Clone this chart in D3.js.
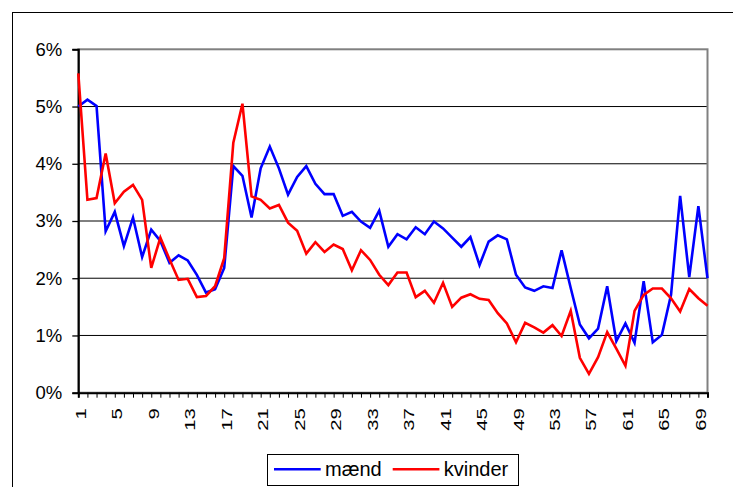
<!doctype html>
<html lang="da">
<head>
  <meta charset="utf-8">
  <title></title>
  <script src="https://d3js.org/d3.v7.min.js"></script>
  <style>
    body { margin: 0; background: #fff; }
    text { font-family: "Liberation Sans", Arial, sans-serif; fill: #000; }
  </style>
</head>
<body>
<script>
  // alder 1..70, andel i procent
  var ages = d3.range(1, 71);
  var maend = [
    5.00, 5.12, 5.01, 2.82, 3.16, 2.56, 3.06, 2.37, 2.85, 2.65,
    2.27, 2.40, 2.31, 2.06, 1.75, 1.81, 2.18, 3.96, 3.79, 3.06,
    3.92, 4.30, 3.92, 3.46, 3.77, 3.96, 3.65, 3.47, 3.47, 3.09,
    3.16, 2.99, 2.88, 3.18, 2.55, 2.77, 2.68, 2.89, 2.77, 2.99,
    2.87, 2.71, 2.55, 2.72, 2.23, 2.64, 2.75, 2.68, 2.06, 1.84,
    1.78, 1.86, 1.83, 2.49, 1.83, 1.19, 0.95, 1.12, 1.86, 0.90,
    1.21, 0.87, 1.95, 0.88, 1.01, 1.71, 3.44, 2.02, 3.26, 2.00];
  var kvinder = [
    5.58, 3.37, 3.40, 4.18, 3.31, 3.51, 3.63, 3.37, 2.18, 2.71,
    2.33, 1.97, 1.99, 1.67, 1.69, 1.86, 2.35, 4.37, 5.05, 3.43,
    3.37, 3.22, 3.28, 2.97, 2.83, 2.43, 2.63, 2.46, 2.59, 2.51,
    2.14, 2.49, 2.32, 2.06, 1.88, 2.10, 2.10, 1.67, 1.78, 1.57,
    1.92, 1.50, 1.66, 1.72, 1.64, 1.62, 1.39, 1.21, 0.88, 1.22,
    1.14, 1.05, 1.18, 0.99, 1.43, 0.61, 0.33, 0.62, 1.06, 0.77,
    0.47, 1.43, 1.71, 1.82, 1.82, 1.65, 1.42, 1.81, 1.65, 1.52];
  var yTicks = [0, 1, 2, 3, 4, 5, 6];
  var xTicks = d3.range(1, 71, 4);

  var series = [
    {name: "mænd", values: maend, color: "#0000ff"},
    {name: "kvinder", values: kvinder, color: "#ff0000"}
  ];

  var W = 733, H = 487;
  var plot = {left: 78.3, right: 707.5, top: 49.3, bottom: 392.7};

  var svg = d3.select("body").append("svg")
    .attr("width", W).attr("height", H);

  // ydre ramme
  svg.append("rect")
    .attr("x", 12.5).attr("y", 12.5)
    .attr("width", 800).attr("height", 600)
    .attr("fill", "#fff").attr("stroke", "#000").attr("stroke-width", 1);

  var x = d3.scalePoint().domain(ages).range([plot.left, plot.right]);
  var y = d3.scaleLinear().domain([0, 6]).range([plot.bottom, plot.top]);

  // gitterlinjer
  svg.append("g")
    .selectAll("line")
    .data(yTicks.filter(d => d > 0 && d < 6))
    .enter().append("line")
    .attr("x1", plot.left).attr("x2", plot.right)
    .attr("y1", d => y(d)).attr("y2", d => y(d))
    .attr("stroke", "#000").attr("stroke-width", 1);

  // plotramme (grå)
  svg.append("rect")
    .attr("x", plot.left).attr("y", plot.top)
    .attr("width", plot.right - plot.left).attr("height", plot.bottom - plot.top)
    .attr("fill", "none").attr("stroke", "#808080").attr("stroke-width", 2);

  // y-akse
  var yAxis = svg.append("g")
    .attr("transform", "translate(" + plot.left + ",0)")
    .call(d3.axisLeft(y).tickValues(yTicks).tickSize(6).tickPadding(10)
      .tickFormat(d => d + "%"));
  yAxis.select(".domain").attr("stroke", "#000").attr("stroke-width", 2);
  yAxis.selectAll(".tick line").attr("stroke", "#000").attr("stroke-width", 1.3);
  yAxis.selectAll("text").attr("font-size", 18.5)
    .style("font-family", "'Liberation Sans', Arial, sans-serif");

  // x-akse: streg for hver alder, label for hver fjerde
  var xAxis = svg.append("g")
    .attr("transform", "translate(0," + plot.bottom + ")")
    .call(d3.axisBottom(x).tickValues(ages).tickSize(5).tickFormat(""));
  xAxis.select(".domain").attr("stroke", "#000").attr("stroke-width", 2);
  xAxis.selectAll(".tick line").attr("stroke", "#000").attr("stroke-width", 1);

  // labels er strakt i længderetningen som i Excel
  svg.append("g")
    .selectAll("text")
    .data(xTicks)
    .enter().append("text")
    .attr("transform", d => "translate(" + x(d) + "," + (plot.bottom + 15.5) + ") rotate(-90) scale(1.35,1)")
    .attr("text-anchor", "end")
    .attr("dy", "0.5em")
    .attr("font-size", 15)
    .text(d => d);

  // linjer
  var line = d3.line()
    .x((d, i) => x(ages[i]))
    .y(d => y(d));

  svg.append("g")
    .selectAll("path")
    .data(series)
    .enter().append("path")
    .attr("d", d => line(d.values))
    .attr("fill", "none")
    .attr("stroke", d => d.color)
    .attr("stroke-width", 2.6)
    .attr("stroke-linejoin", "miter");

  // signatur
  var leg = svg.append("g");
  leg.append("rect")
    .attr("x", 267.5).attr("y", 454.5)
    .attr("width", 251).attr("height", 31)
    .attr("fill", "#fff").attr("stroke", "#000").attr("stroke-width", 1);
  var legX = [274, 392.7];
  series.forEach(function (s, i) {
    leg.append("line")
      .attr("x1", legX[i]).attr("x2", legX[i] + 46.7)
      .attr("y1", 469.3).attr("y2", 469.3)
      .attr("stroke", s.color).attr("stroke-width", 2.6);
    leg.append("text")
      .attr("x", legX[i] + 51).attr("y", 469.3)
      .attr("dy", "0.35em")
      .attr("font-size", 20)
      .text(s.name);
  });
</script>
</body>
</html>
